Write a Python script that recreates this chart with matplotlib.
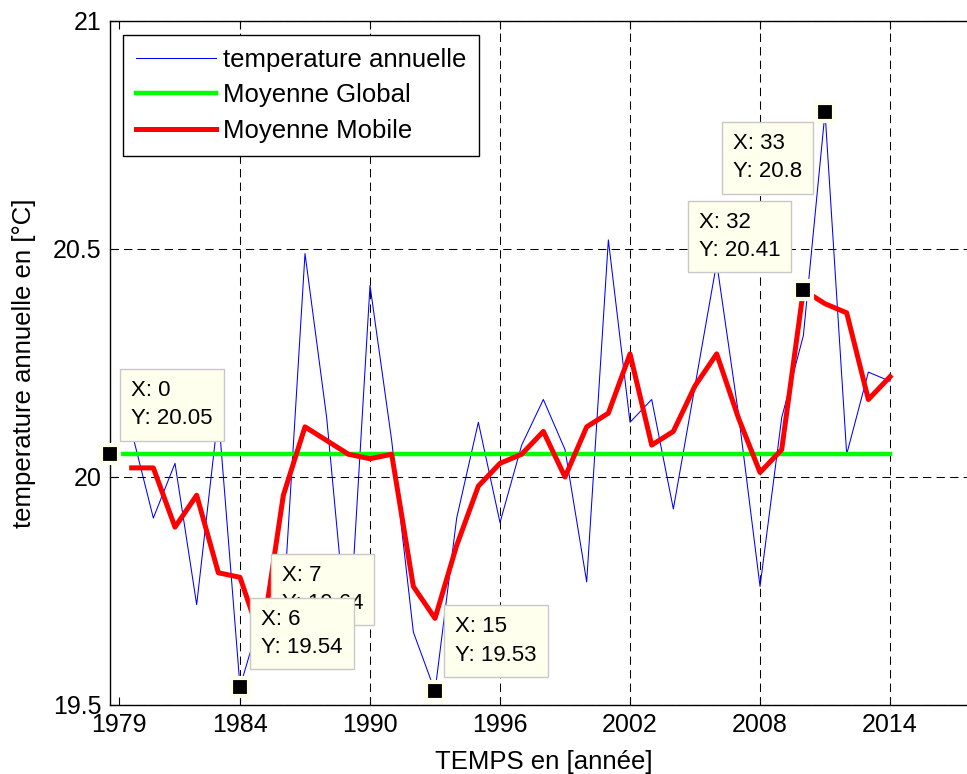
import numpy as np
import matplotlib.pyplot as plt

plt.rcParams['font.family'] = ['Liberation Sans', 'DejaVu Sans']

# ================================================================
# Data - x is the year index, 1 = 1979
# ================================================================
annee_idx = np.arange(1, 37)
temp_annuelle = [20.10, 19.91, 20.03, 19.72, 20.14, 19.54, 19.70, 19.71, 20.49, 20.13,
                 19.62, 20.42, 20.08, 19.66, 19.53, 19.91, 20.12, 19.90, 20.07, 20.17,
                 20.06, 19.77, 20.52, 20.12, 20.17, 19.93, 20.20, 20.47, 20.14, 19.76,
                 20.13, 20.31, 20.80, 20.05, 20.23, 20.21]
moyenne_mobile = [20.02, 20.02, 19.89, 19.96, 19.79, 19.78, 19.64, 19.96, 20.11, 20.08,
                  20.05, 20.04, 20.05, 19.76, 19.69, 19.85, 19.98, 20.03, 20.05, 20.10,
                  20.00, 20.11, 20.14, 20.27, 20.07, 20.10, 20.20, 20.27, 20.13, 20.01,
                  20.06, 20.41, 20.38, 20.36, 20.17, 20.22]
global_x = [0, 36]
moyenne_globale = 20.05

tick_pos = [0.4, 6, 12, 18, 24, 30, 36]
tick_lab = ['1979', '1984', '1990', '1996', '2002', '2008', '2014']

# data tips : (X, Y)
tips_x = [0, 6, 7, 15, 32, 33]
tips_y = [20.05, 19.54, 19.64, 19.53, 20.41, 20.8]

# ================================================================
# Figure
# ================================================================
W, H = 967, 774
fig = plt.figure(figsize=(W/100, H/100), dpi=100)
ax = fig.add_axes([110/W, 69/H, 866.7/W, 684/H])

ax.plot(annee_idx, temp_annuelle, color='#0000FF', lw=0.75, label='temperature annuelle', zorder=2)
ax.plot(global_x, [moyenne_globale]*2, color='#00FF00', lw=3.2, label='Moyenne Global', zorder=3)
ax.plot(annee_idx, moyenne_mobile, color='#FF0000', lw=3.6, label='Moyenne Mobile', zorder=4)

ax.set_xlim(0, 40); ax.set_ylim(19.5, 21)
ax.set_xticks(tick_pos); ax.set_xticklabels(tick_lab)
ax.set_yticks([19.5, 20, 20.5, 21]); ax.set_yticklabels(['19.5', '20', '20.5', '21'])
ax.tick_params(direction='in', length=6, top=True, right=True, labelsize=18, pad=6)
ax.grid(True, color='k', ls=(0, (8, 5)), lw=0.75)
ax.get_xgridlines()[0].set_visible(False)
for s in ax.spines.values():
    s.set_linewidth(1)

ax.set_xlabel('TEMPS en [année]', fontsize=18.5, labelpad=9)
ax.set_ylabel('temperature annuelle en [°C]', fontsize=18.5, labelpad=12)

leg = ax.legend(loc='upper left', bbox_to_anchor=(0.015, 0.9795), borderaxespad=0,
                fancybox=False, edgecolor='k', framealpha=1, fontsize=18.5,
                handlelength=3.1, handletextpad=0.3, labelspacing=0.45, borderpad=0.5)
leg.get_frame().set_linewidth(1)

# --- data tips ---
cream = '#FFFFEE'
# offsets (pixels) of the text anchor from the marker, text alignment, zorder
tip_style = [(21, 74, 'left', 7), (21, 78, 'left', 8), (20, 76, 'left', 7),
             (20, 75, 'left', 7), (-23, 78, 'right', 7), (-23, -21, 'right', 7)]
for (xv, yv), (dx, dy, ha, zo) in zip(zip(tips_x, tips_y), tip_style):
    ax.plot(xv, yv, 's', ms=13, mfc='k', mec=cream, mew=3, clip_on=False, zorder=5)
    ax.annotate(f'X: {xv}\nY: {yv:g}', xy=(xv, yv), xytext=(dx, dy),
                textcoords='offset pixels', ha=ha, va='top', multialignment='left',
                fontsize=16, linespacing=1.45, zorder=zo,
                bbox=dict(boxstyle='square,pad=0.5', fc=cream, ec='#C8C8C8', lw=1))

fig.savefig('out.png', dpi=100, facecolor='white')
plt.close()
